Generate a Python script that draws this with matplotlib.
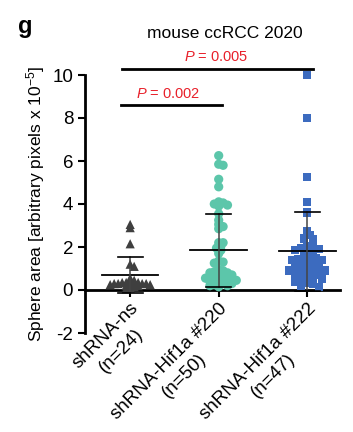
import numpy as np
import matplotlib
matplotlib.use("Agg")
import matplotlib.pyplot as plt

plt.rcParams['font.family'] = ['Liberation Sans', 'DejaVu Sans']
plt.rcParams['axes.unicode_minus'] = False
plt.rcParams['mathtext.fontset'] = 'custom'
plt.rcParams['mathtext.rm'] = 'Liberation Sans'
plt.rcParams['mathtext.it'] = 'Liberation Sans:italic'

# values
groups = ["shRNA-ns", "shRNA-Hif1a #220", "shRNA-Hif1a #222"]
counts = ["(n=24)", "(n=50)", "(n=47)"]
ns_vals = [3.05, 2.9, 2.15, 1.2, 1.1, 0.55, 0.45, 0.4, 0.35, 0.35, 0.35, 0.3, 0.3, 0.3,
           0.3, 0.3, 0.25, 0.25, 0.25, 0.2, 0.2, 0.15, 0.1, 0.05]
h220_vals = [6.25, 5.85, 5.8, 5.15, 4.8, 4.1, 4.05, 4.0, 3.95, 3.9, 3.55, 3.25, 3.05,
             2.95, 2.85, 2.2, 2.2, 2.05, 1.95, 1.85, 1.7, 1.35, 1.3, 1.25,
             0.95, 0.9, 0.85, 0.8, 0.8, 0.75, 0.7, 0.7, 0.65, 0.6, 0.6, 0.55, 0.55,
             0.5, 0.5, 0.45, 0.45, 0.4, 0.4, 0.35, 0.3, 0.3, 0.25, 0.2, 0.2, 0.15]
h222_vals = [10.0, 8.0, 5.25, 4.1, 3.6, 2.75, 2.55, 2.4, 2.35, 2.05, 2.0, 1.95, 1.9,
             1.85, 1.8, 1.75, 1.6, 1.5, 1.5, 1.45, 1.4, 1.4, 1.35, 1.3, 1.2, 1.2,
             1.1, 1.05, 1.0, 1.0, 0.95, 0.9, 0.9, 0.85, 0.8, 0.75, 0.7, 0.65, 0.6,
             0.55, 0.5, 0.5, 0.4, 0.35, 0.3, 0.2, 0.15]
means = [0.68, 1.84, 1.8]
sds = [0.84, 1.70, 1.83]
pvals = ["0.002", "0.005"]

colors = ["#3f3f3f", "#5cc6aa", "#3c6bbf"]
markers = ["^", "o", "s"]
msizes = [44, 44, 36]
spread = [(3.0, 2.0), (3.6, 2.2), (5.0, 3.0)]
lab_fs = 13.5

fig = plt.figure(figsize=(3.53, 4.32), dpi=100)
ax = fig.add_axes([85/353, 99/432, 255/353, 258/432])
ax.set_xlim(-0.51, 2.37)
ax.set_ylim(-2, 10)

# pixel scale, for a simple beeswarm
px_x = 255 / (2.37 + 0.51)
px_y = 258 / 12.0


def swarm(vals, mind, step):
    placed = []
    offs = []
    for v in vals:
        y = v * px_y
        k = 0
        while True:
            cands = [0.0] if k == 0 else [k * step, -k * step]
            ok = None
            for c in cands:
                if all((c - px) ** 2 + (y - py) ** 2 >= mind ** 2 for px, py in placed):
                    ok = c
                    break
            if ok is not None:
                break
            k += 1
        placed.append((ok, y))
        offs.append(ok / px_x)
    return np.array(offs)


for i, vals in enumerate([ns_vals, h220_vals, h222_vals]):
    vals = np.array(vals)
    offs = swarm(vals, *spread[i])
    ax.scatter(i + offs, vals, marker=markers[i], s=msizes[i], color=colors[i],
               edgecolor='none', zorder=3, clip_on=False)
    m, s = means[i], sds[i]
    ax.plot([i - 0.32, i + 0.32], [m, m], color='black', lw=1.3, zorder=4)
    ax.plot([i, i], [m - s, m + s], color='#444444', lw=1.1, zorder=4)
    for yy in (m - s, m + s):
        ax.plot([i - 0.14, i + 0.14], [yy, yy], color='black', lw=1.2, zorder=4)

# significance brackets
ax.plot([-0.1, 1.04], [8.6, 8.6], color='black', lw=2, clip_on=False)
ax.plot([-0.09, 2.06], [10.3, 10.3], color='black', lw=2, clip_on=False)
ax.text(0.43, 8.8, "$\\it{P}$ = " + pvals[0], color='#e8202a', ha='center', va='bottom', fontsize=10.5)
ax.text(0.97, 10.5, "$\\it{P}$ = " + pvals[1], color='#e8202a', ha='center', va='bottom', fontsize=10.5)

ax.spines['top'].set_visible(False)
ax.spines['right'].set_visible(False)
ax.spines['bottom'].set_position(('data', 0))
ax.spines['left'].set_linewidth(2)
ax.spines['bottom'].set_linewidth(2)
ax.set_yticks([-2, 0, 2, 4, 6, 8, 10])
ax.tick_params(axis='y', labelsize=13.5, width=1.5, length=5)
ax.tick_params(axis='x', width=1.5, length=5, pad=2)
ax.set_xticks([0, 1, 2])
ax.set_xticklabels(groups, rotation=45, ha='right', rotation_mode='anchor', fontsize=lab_fs)
ax.set_ylabel("Sphere area [arbitrary pixels x 10$^{\\mathregular{-5}}$]", fontsize=12.5, labelpad=4)

fig.text(225/353, 1 - 34/432, "mouse ccRCC 2020", ha='center', va='center', fontsize=12.5)
fig.text(18/353, 1 - 27/432, "g", ha='left', va='center', fontsize=17, fontweight='bold')

# second line of each category label, centred under the first (rotated frame)
fig.canvas.draw()
r = fig.canvas.get_renderer()
u = np.array([np.cos(np.pi / 4), np.sin(np.pi / 4)])
nrm = np.array([np.sin(np.pi / 4), -np.cos(np.pi / 4)])
line_px = lab_fs * 1.12 * fig.dpi / 72
for lab, cnt in zip(ax.get_xticklabels(), counts):
    tmp = fig.text(0, 0, lab.get_text(), fontsize=lab_fs)
    bb = tmp.get_window_extent(r)
    tmp.remove()
    a = lab.get_transform().transform(lab.get_position())
    c1 = a - u * bb.width / 2 + nrm * bb.height / 2
    c2 = c1 + nrm * line_px
    fig.text(c2[0] / fig.bbox.width, c2[1] / fig.bbox.height, cnt, fontsize=lab_fs,
             rotation=45, rotation_mode='anchor', ha='center', va='center')

plt.savefig("out.png", dpi=100)
